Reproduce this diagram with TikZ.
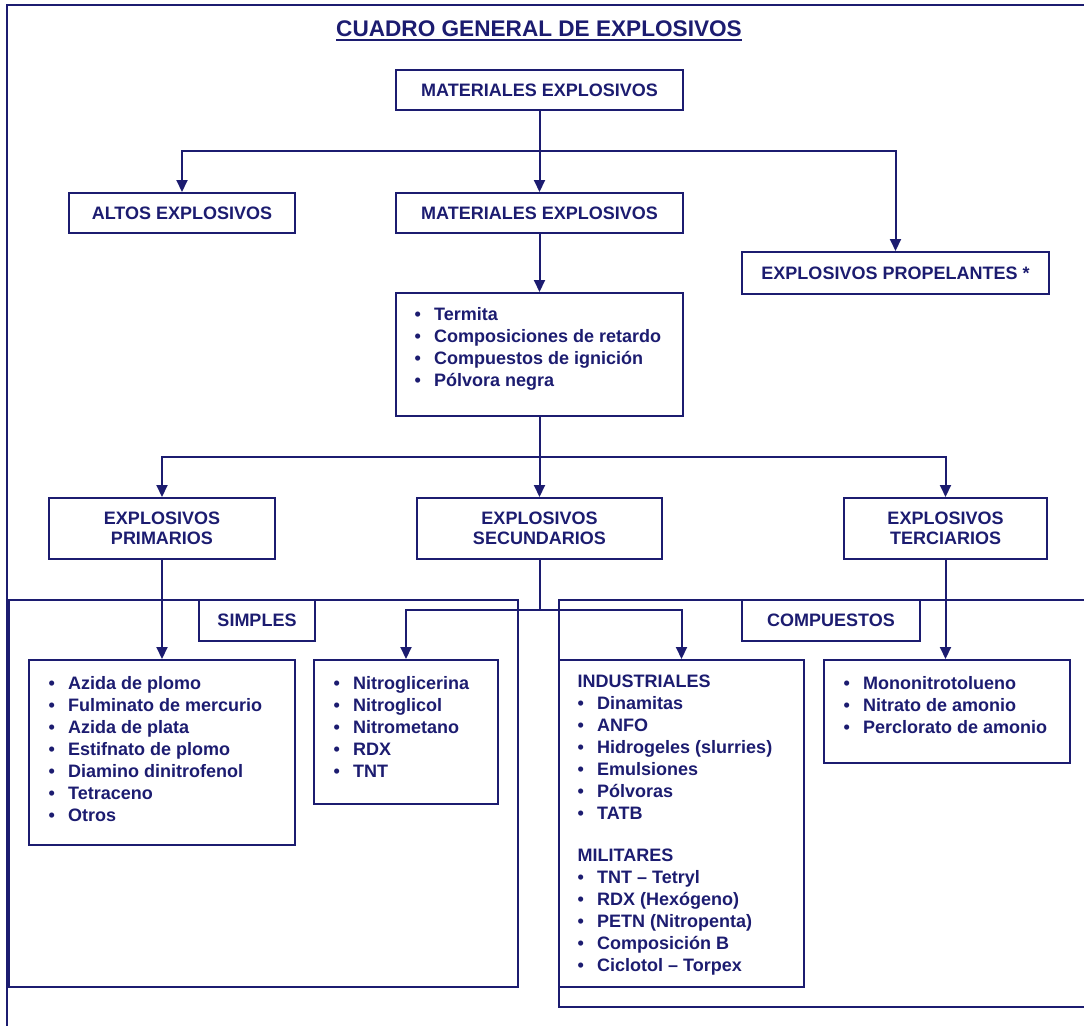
\documentclass[tikz,border=0pt]{standalone}
\usepackage{fontspec}
\setmainfont{Liberation Sans}
\usetikzlibrary{arrows.meta}
\definecolor{navy}{RGB}{28,28,112}
\newcommand\mybul{\makebox[19.5pt][l]{\textbullet}}
\begin{document}
\begin{tikzpicture}[x=1pt,y=-1pt,
  box/.style={draw=navy, line width=2pt, inner sep=0pt, text=navy, align=center,
    font=\bfseries\fontsize{18}{20}\selectfont},
  lst/.style={anchor=base west, inner sep=0pt, text=navy, align=left,
    font=\bfseries\fontsize{18}{22}\selectfont},
  frame/.style={draw=navy, line width=2pt},
  arr/.style={draw=navy, line width=2pt, -{Triangle[width=11pt,length=12pt]}},
  ln/.style={draw=navy, line width=2pt}]
\useasboundingbox (0,0) rectangle (1084,1026);
% outer frame
\draw[frame] (1084,5) -- (7,5) -- (7,1026);
% group frames
\draw[frame] (9,600) rectangle (518,987);
\draw[frame] (1084,600) -- (559,600) -- (559,1007) -- (1084,1007);
% title
\node[inner sep=0pt, anchor=base, text=navy, font=\bfseries\fontsize{22.6}{26}\selectfont] (title) at (539,36) {CUADRO GENERAL DE EXPLOSIVOS};
\draw[navy, line width=1.4pt] ([yshift=-4pt]title.base west) -- ([yshift=-4pt]title.base east);
% boxes
\node[box, minimum width=287, minimum height=40] (m1) at (539.5,90) {MATERIALES EXPLOSIVOS};
\node[box, minimum width=226, minimum height=40] (altos) at (182,213) {ALTOS EXPLOSIVOS};
\node[box, minimum width=287, minimum height=40] (m2) at (539.5,213) {MATERIALES EXPLOSIVOS};
\node[box, minimum width=307, minimum height=42] (prop) at (895.5,273) {EXPLOSIVOS PROPELANTES *};
\node[box, minimum width=287, minimum height=123] (lb) at (539.5,354.5) {};
\node[box, minimum width=226, minimum height=61] (prim) at (162,528.5) {EXPLOSIVOS\\PRIMARIOS};
\node[box, minimum width=245, minimum height=61] (sec) at (539.5,528.5) {EXPLOSIVOS\\SECUNDARIOS};
\node[box, minimum width=203, minimum height=61] (ter) at (945.5,528.5) {EXPLOSIVOS\\TERCIARIOS};
\node[box, minimum width=116, minimum height=41] (simp) at (257,620.5) {SIMPLES};
\node[box, minimum width=178, minimum height=41] (comp) at (831,620.5) {COMPUESTOS};
\node[box, minimum width=266, minimum height=185] (azb) at (162,752.5) {};
\node[box, minimum width=184, minimum height=144] (nib) at (406,732) {};
\node[box, minimum width=245, minimum height=327] (inb) at (681.5,823.5) {};
\node[box, minimum width=246, minimum height=103] (mob) at (947,711.5) {};
% lists
\node[lst, font=\bfseries\fontsize{18}{22.3}\selectfont] (l1) at (414.5,320) {\begin{tabular}[t]{@{}l@{}}\mybul Termita\\ \mybul Composiciones de retardo\\ \mybul Compuestos de ignición\\ \mybul Pólvora negra\end{tabular}};
\node[lst] (l2) at (48.5,689) {\begin{tabular}[t]{@{}l@{}}\mybul Azida de plomo\\ \mybul Fulminato de mercurio\\ \mybul Azida de plata\\ \mybul Estifnato de plomo\\ \mybul Diamino dinitrofenol\\ \mybul Tetraceno\\ \mybul Otros\end{tabular}};
\node[lst] (l3) at (333.5,689) {\begin{tabular}[t]{@{}l@{}}\mybul Nitroglicerina\\ \mybul Nitroglicol\\ \mybul Nitrometano\\ \mybul RDX\\ \mybul TNT\end{tabular}};
\node[lst] (l4) at (577.5,687) {\begin{tabular}[t]{@{}l@{}}INDUSTRIALES\\ \mybul Dinamitas\\ \mybul ANFO\\ \mybul Hidrogeles (slurries)\\ \mybul Emulsiones\\ \mybul Pólvoras\\ \mybul TATB\\[20pt] MILITARES\\ \mybul TNT – Tetryl\\ \mybul RDX (Hexógeno)\\ \mybul PETN (Nitropenta)\\ \mybul Composición B\\ \mybul Ciclotol – Torpex\end{tabular}};
\node[lst] (l5) at (843.5,689) {\begin{tabular}[t]{@{}l@{}}\mybul Mononitrotolueno\\ \mybul Nitrato de amonio\\ \mybul Perclorato de amonio\end{tabular}};
% junctions
\coordinate (j1) at (539.5,151);
\coordinate (j2) at (539.5,457);
\coordinate (j3) at (539.5,610);
% connectors
\draw[ln] (m1.south) -- (j1);
\draw[arr] (j1) -| (altos.north);
\draw[arr] (j1) -- (m2.north);
\draw[arr] (j1) -| (prop.north);
\draw[arr] (m2.south) -- (lb.north);
\draw[ln] (lb.south) -- (j2);
\draw[arr] (j2) -| (prim.north);
\draw[arr] (j2) -- (sec.north);
\draw[arr] (j2) -| (ter.north);
\draw[arr] (prim.south) -- (azb.north);
\draw[ln] (sec.south) -- (j3);
\draw[arr] (j3) -| (nib.north);
\draw[arr] (j3) -| (inb.north);
\draw[arr] (ter.south) -- (ter.south |- mob.north);
\end{tikzpicture}
\end{document}
